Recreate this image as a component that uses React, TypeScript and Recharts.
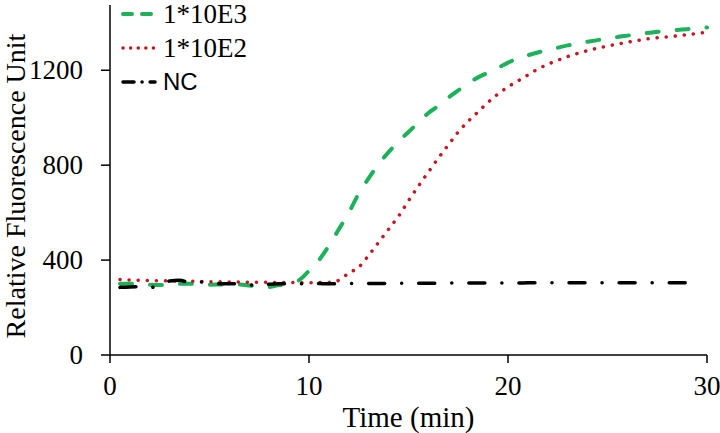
import { Line, LineChart, XAxis, YAxis } from 'recharts'

const times = [
  0.5, 1, 1.5, 2, 2.5, 3, 3.5, 4, 4.5, 5, 5.5, 6, 6.5, 7, 7.5, 8, 8.5, 9, 9.5, 10,
  10.5, 11, 11.5, 12, 12.5, 13, 13.5, 14, 14.5, 15, 15.5, 16, 16.5, 17, 17.5, 18, 18.5, 19, 19.5, 20,
  20.5, 21, 21.5, 22, 22.5, 23, 23.5, 24, 24.5, 25, 25.5, 26, 26.5, 27, 27.5, 28, 28.5, 29, 29.5, 30,
]

const e3 = [
  300, 300, 298, 296, 295, 297, 300, 300, 298, 296, 297, 298, 297, 293, 288, 287, 295, 300, 315, 355,
  400, 460, 530, 600, 680, 745, 805, 855, 900, 940, 980, 1020, 1050, 1085, 1115, 1145, 1170, 1190, 1210, 1232,
  1250, 1263, 1275, 1285, 1295, 1305, 1313, 1320, 1327, 1333, 1340, 1346, 1352, 1357, 1362, 1367, 1370, 1373, 1376, 1380,
]

const e2 = [
  318, 316, 315, 314, 313, 312, 311, 311, 310, 309, 309, 308, 308, 307, 307, 306, 306, 306, 305, 305,
  305, 306, 315, 345, 370, 420, 475, 530, 585, 650, 712, 771, 830, 885, 940, 985, 1025, 1065, 1100, 1130,
  1155, 1180, 1205, 1225, 1242, 1258, 1271, 1283, 1293, 1302, 1310, 1318, 1325, 1332, 1337, 1341, 1345, 1350, 1355, 1360,
]

const nc = [
  285, 287, 288, 284, 295, 312, 315, 305, 308, 302, 300, 300, 300, 296, 293, 298, 300, 300, 300, 300,
  301, 300, 300, 301, 301, 301, 301, 302, 302, 302, 302, 302, 302, 303, 303, 303, 303, 303, 303, 303,
  303, 304, 304, 304, 304, 304, 304, 304, 304, 305, 305, 305, 305, 305, 305, 305, 305, 305, 305, null,
]

const seriesKeys = ['e3', 'e2', 'nc']
const seriesNames = ['1*10E3', '1*10E2', 'NC']

const xTicks = [0, 10, 20, 30]
const yTicks = [0, 400, 800, 1200]

const data = times.map((t, i) => ({ t, e3: e3[i], e2: e2[i], nc: nc[i] }))

const serif = '"Liberation Serif", "Times New Roman", serif'
const sans = '"Liberation Sans", Arial, sans-serif'

const styles: Record<string, { color: string; dash: string; width: number; legendDash: string; font: string; size: number }> = {
  e3: { color: '#1DB15A', dash: '12 18', width: 4, legendDash: '9 10', font: serif, size: 27 },
  e2: { color: '#C8161E', dash: '0.1 9', width: 3.5, legendDash: '0.1 7.5', font: serif, size: 27 },
  nc: { color: '#000000', dash: '16 17 0.1 17', width: 3.5, legendDash: '11 8 0.1 8', font: sans, size: 24 },
}

function XTick({ x, y, payload }: any) {
  return (
    <text x={x} y={y} dy={26} textAnchor="middle" style={{ fontFamily: serif }} fontSize={27} fill="#000">
      {payload.value}
    </text>
  )
}

function YTick({ x, y, payload }: any) {
  return (
    <text x={x} y={y} dy={9} textAnchor="end" style={{ fontFamily: serif }} fontSize={27} fill="#000">
      {payload.value}
    </text>
  )
}

function XLabel({ viewBox }: any) {
  const cx = viewBox ? viewBox.x + viewBox.width / 2 : 410
  return (
    <text x={cx} y={427} textAnchor="middle" style={{ fontFamily: serif }} fontSize={29} fill="#000">
      Time (min)
    </text>
  )
}

function YLabel({ viewBox }: any) {
  const cx = 25
  const cy = viewBox ? viewBox.y + viewBox.height / 2 + 6 : 186
  return (
    <text x={cx} y={cy} transform={`rotate(-90 ${cx} ${cy})`} textAnchor="middle" style={{ fontFamily: serif }} fontSize={28} fill="#000">
      Relative Fluorescence Unit
    </text>
  )
}

function LegendBox() {
  return (
    <div style={{ position: 'absolute', left: 118, top: -3, display: 'flex', flexDirection: 'column' }}>
      {seriesKeys.map((key, i) => {
        const s = styles[key]
        return (
          <div key={key} style={{ display: 'flex', alignItems: 'center', height: 34 }}>
            <svg width={40} height={10} style={{ marginRight: 5 }}>
              <line
                x1={5}
                y1={5}
                x2={37}
                y2={5}
                stroke={s.color}
                strokeWidth={s.width}
                strokeDasharray={s.legendDash}
                strokeLinecap="round"
              />
            </svg>
            <span style={{ fontFamily: s.font, fontSize: s.size, color: '#000', lineHeight: 1 }}>{seriesNames[i]}</span>
          </div>
        )
      })}
    </div>
  )
}

export default function App() {
  return (
    <div style={{ position: 'absolute', left: 0, top: 0, width: 720, height: 433, background: '#fff' }}>
      <LineChart width={720} height={433} data={data} margin={{ top: 5, right: 13, bottom: 13, left: 0 }}>
        <XAxis
          dataKey="t"
          type="number"
          domain={[0, 30]}
          ticks={xTicks}
          height={65}
          tickSize={8}
          tickMargin={6}
          axisLine={{ stroke: '#000', strokeWidth: 1.5 }}
          tickLine={{ stroke: '#000', strokeWidth: 1.5 }}
          tick={<XTick />}
          label={<XLabel />}
        />
        <YAxis
          type="number"
          domain={[0, 1475]}
          ticks={yTicks}
          width={110}
          tickSize={9}
          tickMargin={18}
          axisLine={{ stroke: '#000', strokeWidth: 1.5 }}
          tickLine={{ stroke: '#000', strokeWidth: 1.5 }}
          tick={<YTick />}
          label={<YLabel />}
        />
        {seriesKeys.map((key, i) => (
          <Line
            key={key}
            dataKey={key}
            name={seriesNames[i]}
            type="monotone"
            stroke={styles[key].color}
            strokeWidth={styles[key].width}
            strokeDasharray={styles[key].dash}
            strokeLinecap="round"
            dot={false}
            activeDot={false}
            isAnimationActive={false}
          />
        ))}
      </LineChart>
      <LegendBox />
    </div>
  )
}
